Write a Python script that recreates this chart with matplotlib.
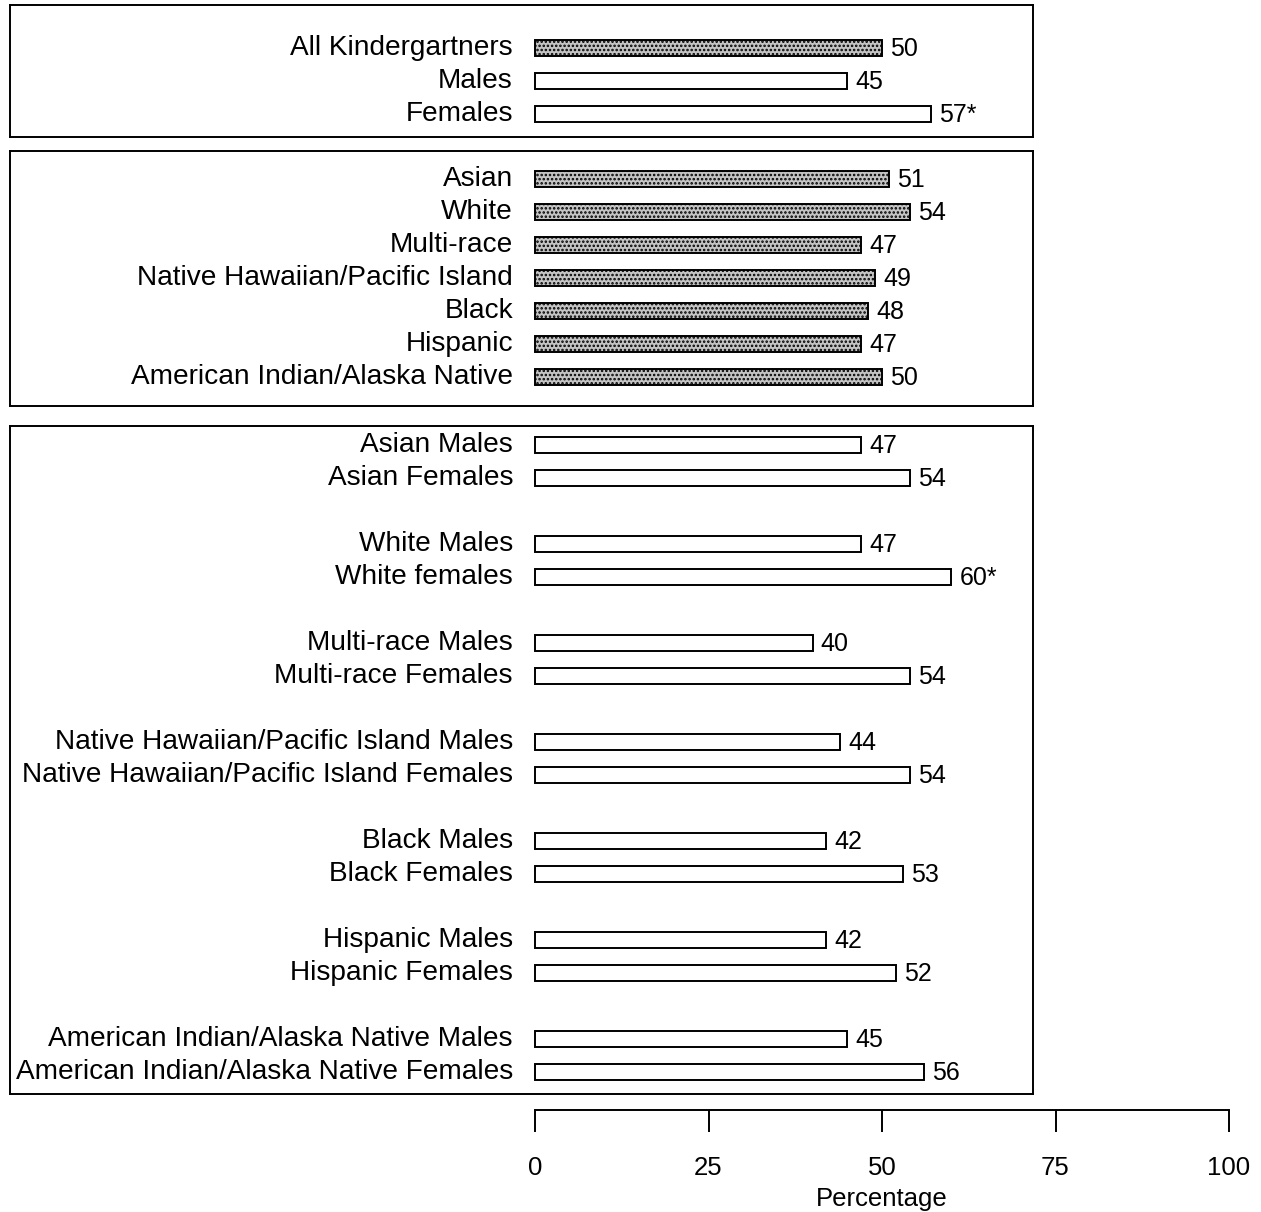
import matplotlib
matplotlib.use("Agg")
import matplotlib.pyplot as plt
from matplotlib import font_manager

# ---- data -------------------------------------------------------------
overall_labels = ["All Kindergartners", "Males", "Females"]
overall_values = [50, 45, 57]
overall_notes = ["", "", "*"]
overall_filled = [True, False, False]

race_labels = ["Asian", "White", "Multi-race", "Native Hawaiian/Pacific Island",
               "Black", "Hispanic", "American Indian/Alaska Native"]
race_values = [51, 54, 47, 49, 48, 47, 50]

group_labels = ["Asian Males", "Asian Females",
                "White Males", "White females",
                "Multi-race Males", "Multi-race Females",
                "Native Hawaiian/Pacific Island Males", "Native Hawaiian/Pacific Island Females",
                "Black Males", "Black Females",
                "Hispanic Males", "Hispanic Females",
                "American Indian/Alaska Native Males", "American Indian/Alaska Native Females"]
group_values = [47, 54, 47, 60, 40, 54, 44, 54, 42, 53, 42, 52, 45, 56]
group_notes = ["", "", "", "*", "", "", "", "", "", "", "", "", "", ""]

axis_ticks = [0, 25, 50, 75, 100]
axis_label = "Percentage"

# ---- styling ----------------------------------------------------------
fams = {f.name for f in font_manager.fontManager.ttflist}
LABEL_FONT = "Liberation Sans" if "Liberation Sans" in fams else "DejaVu Sans"
plt.rcParams["font.family"] = [LABEL_FONT, "DejaVu Sans"]
plt.rcParams["hatch.color"] = "#6a6a6a"
plt.rcParams["hatch.linewidth"] = 1.2

W, H = 1261, 1212
DPI = 100
fig = plt.figure(figsize=(W / DPI, H / DPI), dpi=DPI)

X0_PX, X100_PX = 535, 1229          # horizontal position of 0 and 100
PX_PER_UNIT = (X100_PX - X0_PX) / 100.0
BOX_L, BOX_R = 10, 1033
ROW_PX = 33.0
BAR_H = 0.46
GRAY = "#c4c4c4"
LW = 1.4
LABEL_SIZE = 20.2
VALUE_SIZE = 18


def panel(top_px, bottom_px, first_center_px, positions, labels, values,
          filled, notes):
    ax = fig.add_axes([BOX_L / W, 1 - bottom_px / H,
                       (BOX_R - BOX_L) / W, (bottom_px - top_px) / H])
    xmin = -(X0_PX - BOX_L) / PX_PER_UNIT
    xmax = (BOX_R - X0_PX) / PX_PER_UNIT
    ax.set_xlim(xmin, xmax)
    top_units = (first_center_px - top_px) / ROW_PX
    bot_units = (bottom_px - first_center_px) / ROW_PX
    ax.set_ylim(bot_units, -top_units)
    for pos, lab, val, fil, note in zip(positions, labels, values, filled, notes):
        ax.barh(pos, val, height=BAR_H, left=0,
                color=GRAY if fil else "white", edgecolor="black",
                hatch="...." if fil else None,
                linewidth=LW, zorder=2)
        ax.text(-22 / PX_PER_UNIT, pos, lab, ha="right", va="center",
                fontsize=LABEL_SIZE, color="black")
        ax.text(val + 8 / PX_PER_UNIT, pos + 0.03, f"{val}{note}", ha="left",
                va="center", fontsize=VALUE_SIZE, color="black")
    ax.set_xticks([])
    ax.set_yticks([])
    for s in ax.spines.values():
        s.set_linewidth(LW)
        s.set_color("black")
    return ax


panel(5, 137, 48, list(range(3)), overall_labels, overall_values,
      overall_filled, overall_notes)
panel(151, 406, 179, list(range(7)), race_labels, race_values,
      [True] * 7, [""] * 7)
group_pos = [3 * (i // 2) + (i % 2) for i in range(len(group_labels))]
panel(426, 1094, 445, group_pos, group_labels, group_values,
      [False] * len(group_labels), group_notes)

# ---- percentage axis --------------------------------------------------
ax_x = fig.add_axes([X0_PX / W, 1 - 1110 / H, (X100_PX - X0_PX) / W, 0.0001])
ax_x.set_xlim(0, 100)
ax_x.set_yticks([])
for side in ("top", "left", "right"):
    ax_x.spines[side].set_visible(False)
ax_x.spines["bottom"].set_linewidth(LW)
ax_x.set_xticks(axis_ticks)
ax_x.set_xticklabels([str(t) for t in axis_ticks], fontsize=18.5)
ax_x.tick_params(axis="x", direction="out", length=16, width=LW, pad=17)
ax_x.set_xlabel(axis_label, fontsize=18.5, labelpad=5)

fig.savefig("out.png", dpi=DPI, facecolor="white")
